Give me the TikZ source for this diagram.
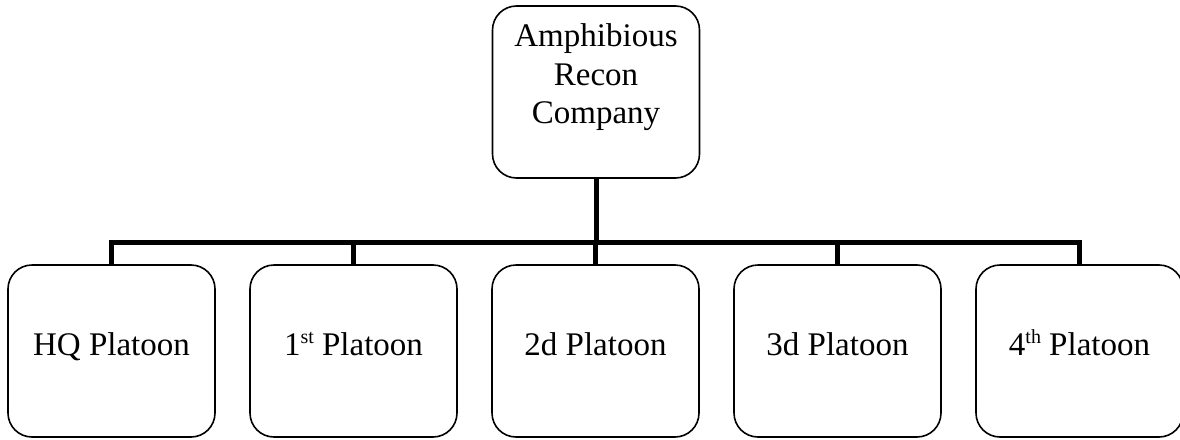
\documentclass[tikz,border=0pt]{standalone}
\usepackage{fontspec}
\setmainfont{Liberation Serif}
\usetikzlibrary{positioning}
\newcommand{\ordsup}[1]{\raisebox{12pt}{\fontsize{20}{20}\selectfont #1}}
\tikzset{
  unitbox/.style={draw, line width=1.6pt, rounded corners=24pt, minimum width=207pt,
    minimum height=172pt, inner sep=0pt, text height=23pt, text depth=15pt,
    font=\fontsize{33}{38.5}\selectfont},
  unittext/.style={align=center, inner sep=0pt, font=\fontsize{33}{38.5}\selectfont},
  busline/.style={line width=5pt}
}

\begin{document}
\begin{tikzpicture}[x=1pt,y=-1pt]
  \useasboundingbox (0,0) rectangle (1180,439);

  % company
  \node[unitbox] (company) at (596,92) {};
  \node[unittext, anchor=north] (companytext) at (596,23.5) {Amphibious\\Recon\\Company};

  % platoons
  \node[unitbox] (hq) at (111.5,351) {HQ Platoon};
  \node[unitbox, right=33.4pt of hq] (first) {1\ordsup{st} Platoon};
  \node[unitbox, right=33.4pt of first] (second) {2d Platoon};
  \node[unitbox, right=33.4pt of second] (third) {3d Platoon};
  \node[unitbox, right=33.4pt of third] (fourth) {4\ordsup{th} Platoon};

  % lines
  \coordinate (bus) at (596,242);
  \draw[busline] (company.south) -- (bus);
  \draw[busline] (hq.north) |- (bus) -| (fourth.north);
  \foreach \unit in {first,second,third}
    \draw[busline] (\unit.north) -- (\unit.north |- bus);
\end{tikzpicture}
\end{document}
